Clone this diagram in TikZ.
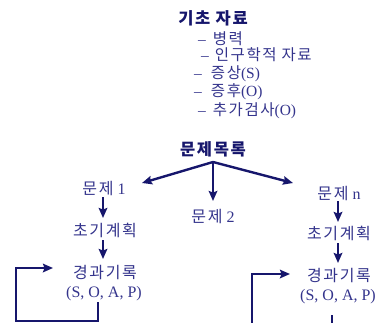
\documentclass[tikz,border=0pt]{standalone}
\usepackage{fontspec}
\setmainfont{Liberation Serif}
\newfontfamily\kr[LetterSpace=10]{Noto Sans CJK KR}
\usetikzlibrary{arrows.meta}
\definecolor{navy}{RGB}{22,22,108}
\definecolor{tblue}{RGB}{52,52,140}
\tikzset{
  title/.style={anchor=base, inner sep=0pt, text=navy, font=\kr\bfseries\fontsize{16.5}{18}\selectfont},
  item/.style={anchor=base west, inner sep=0pt, text=tblue, font=\fontsize{15.5}{17}\selectfont},
  lbl/.style={anchor=base, inner sep=0pt, text=tblue, font=\fontsize{16}{18}\selectfont, align=center},
  arr/.style={draw=navy, line width=2.4pt, -{Stealth[length=10pt,width=8.5pt,inset=1.5pt]}},
  ln/.style={draw=navy, line width=2.4pt}
}
\begin{document}
\begin{tikzpicture}[x=1pt,y=-1pt]
\useasboundingbox (0,0) rectangle (385,322);
\clip (0,0) rectangle (385,322);
% basic data
\node[title] (basic) at (213,24) {기초 자료};
\node[item] (i1) at (198,44) {–\hspace{7pt}{\kr 병력}};
\node[item] (i2) at (201,60) {–\hspace{6pt}{\kr 인구학적 자료}};
\node[item] (i3) at (194,78) {–\hspace{9pt}{\kr 증상}(S)};
\node[item] (i4) at (194,96) {–\hspace{9pt}{\kr 증후}(O)};
\node[item] (i5) at (198,115) {–\hspace{7pt}{\kr 추가검사}(O)};
% problem list
\node[title] (plist) at (213,155) {문제목록};
\coordinate (split) at (213,162);
\coordinate (t1) at (142,183);
\coordinate (t2) at (213,201);
\coordinate (tn) at (293,183);
\node[lbl] (p1) at (104,194) {{\kr 문제} 1};
\node[lbl] (p2) at (213,222) {{\kr 문제} 2};
\node[lbl] (pn) at (339,199) {{\kr 문제} n};
\draw[arr] (split) -- (t1);
\draw[arr] (split) -- (t2);
\draw[arr] (split) -- (tn);
% left column
\node[lbl] (plan1) at (105,236) {\kr 초기계획};
\node[lbl] (rec1) at (105,278) {\kr 경과기록};
\node[lbl] (soap1) at (104,297) {(S, O, A, P)};
\draw[arr] ([xshift=-1pt,yshift=-3pt]p1.base) -- ([xshift=-2pt,yshift=18pt]plan1.base);
\draw[arr] ([xshift=-2pt,yshift=-4pt]plan1.base) -- ([xshift=-2pt,yshift=19pt]rec1.base);
\coordinate (lcorner) at (16,321);
\coordinate (ltip) at (53,268);
\draw[arr] ([xshift=-6pt,yshift=-5pt]soap1.base) |- (lcorner) |- (ltip);
% right column
\node[lbl] (plann) at (339,239) {\kr 초기계획};
\node[lbl] (recn) at (339,281) {\kr 경과기록};
\node[lbl] (soapn) at (338,300) {(S, O, A, P)};
\draw[arr] ([xshift=-1pt,yshift=-2pt]pn.base) -- ([xshift=-1pt,yshift=17pt]plann.base);
\draw[arr] ([xshift=-1pt,yshift=-4pt]plann.base) -- ([xshift=-1pt,yshift=18pt]recn.base);
\coordinate (rbottom) at (252,332);
\coordinate (rtip) at (290,274);
\coordinate (rout) at (332,332);
\draw[ln] ([xshift=-6pt,yshift=-15pt]soapn.base) -- (rout);
\draw[arr] (rbottom) |- (rtip);
\end{tikzpicture}
\end{document}
